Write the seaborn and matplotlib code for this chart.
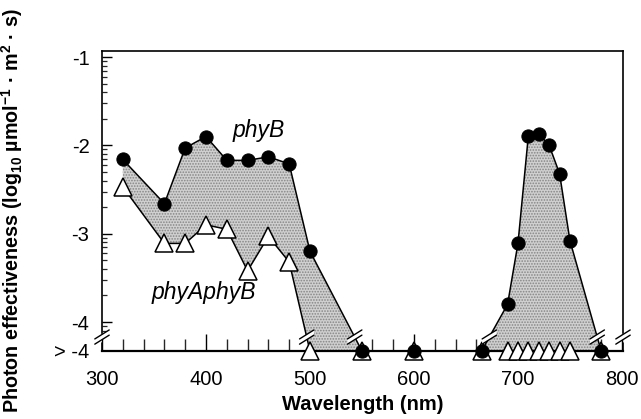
import numpy as np
import pandas as pd
import matplotlib
matplotlib.use("Agg")
import matplotlib.pyplot as plt
import seaborn as sns

# ---------------- data (log10 photon effectiveness; None = "> -4") ----------------
wavelength_nm = [320, 360, 380, 400, 420, 440, 460, 480, 500, 550, 600, 665,
                 690, 700, 710, 720, 730, 740, 750, 780]
phyB_values = [-2.16, -2.66, -2.03, -1.90, -2.17, -2.17, -2.13, -2.21, -3.20,
               None, None, None, -3.80, -3.11, -1.89, -1.87, -2.00, -2.32, -3.08, None]
phyAphyB_values = [-2.47, -3.11, -3.11, -2.90, -2.95, -3.42, -3.03, -3.32, None,
                   None, None, None, None, None, None, None, None, None, None, None]
ytick_values = [-1, -2, -3, -4]
ytick_labels = ["-1", "-2", "-3", "-4"]
floor_label = "> -4"
xtick_values = [300, 400, 500, 600, 700, 800]

FLOOR = -4.328      # plotted position of the "> -4" row
BREAK_Y = -4.17     # where the axis / line breaks are drawn

sns.set_theme(style="ticks")
plt.rcParams["font.family"] = ["Liberation Sans", "DejaVu Sans"]
plt.rcParams["mathtext.fontset"] = "custom"
plt.rcParams["mathtext.rm"] = "Liberation Sans"
plt.rcParams["mathtext.bf"] = "Liberation Sans:bold"
plt.rcParams["mathtext.it"] = "Liberation Sans:italic"
plt.rcParams["hatch.linewidth"] = 0.8
plt.rcParams["axes.unicode_minus"] = False
plt.rcParams["text.color"] = "black"
plt.rcParams["axes.labelcolor"] = "black"

df = pd.DataFrame({
    "nm": wavelength_nm,
    "phyB": [FLOOR if v is None else v for v in phyB_values],
    "phyAphyB": [FLOOR if v is None else v for v in phyAphyB_values],
})

fig = plt.figure(figsize=(6.41, 4.19), dpi=100)
ax = fig.add_axes([102 / 641, 1 - 351 / 419, 521 / 641, 300 / 419])
ax.set_xlim(300, 801)
ax.set_ylim(FLOOR, -0.932)

# shaded areas between the two curves
left = df[df.nm <= 550]
right = df[df.nm >= 665]
for part in (left, right):
    ax.fill_between(part.nm, part.phyB, part.phyAphyB, facecolor="#d0d0d0",
                    edgecolor="#858585", hatch="......", linewidth=0, zorder=1)

sns.lineplot(data=df, x="nm", y="phyAphyB", ax=ax, sort=False, estimator=None,
             color="black", linewidth=1.1, marker="^", markersize=12.5,
             markerfacecolor="white", markeredgecolor="black", markeredgewidth=1.1,
             clip_on=False, zorder=4)
sns.lineplot(data=df, x="nm", y="phyB", ax=ax, sort=False, estimator=None,
             color="black", linewidth=1.1, marker="o", markersize=9.5,
             markerfacecolor="black", markeredgecolor="black",
             clip_on=False, zorder=5)

# ticks
ax.set_xticks(xtick_values)
ax.set_xticklabels([str(v) for v in xtick_values])
ax.set_xticks(np.arange(320, 800, 20), minor=True)
ax.set_yticks(ytick_values + [FLOOR])
ax.set_yticklabels(ytick_labels + [floor_label])
ax.yaxis.get_major_ticks()[-1].tick1line.set_visible(False)
minor_y = [n + np.log10(k) for n in (-2, -3, -4, -5) for k in range(2, 10)]
minor_y = [v for v in minor_y if -4.12 <= v <= -0.95]
ax.set_yticks(minor_y, minor=True)

ax.tick_params(axis="x", which="major", direction="in", length=12.5, width=1.0,
               pad=14, labelsize=14.5, colors="black")
ax.tick_params(axis="x", which="minor", direction="in", length=8.5, width=1.0)
ax.tick_params(axis="y", which="major", direction="in", length=7, width=1.0,
               pad=9, labelsize=14.5, colors="black")
ax.tick_params(axis="y", which="minor", direction="in", length=3.6, width=0.9)
ax.tick_params(top=False, right=False)

for s in ax.spines.values():
    s.set_color("black")
    s.set_linewidth(1.2)
ax.spines["left"].set_bounds(-4.125, -0.932)
ax.spines["right"].set_bounds(-4.125, -0.932)
ax.spines["bottom"].set_linewidth(1.6)

ax.set_xlabel("Wavelength (nm)", fontsize=14.5, fontweight="bold", color="black")
ax.xaxis.set_label_coords(0.5, -0.148)
ax.set_ylabel(r"Photon effectiveness (log$_{\mathbf{10}}$ µmol$^{\mathbf{-1}}$ · m$^{\mathbf{2}}$ · s)",
              fontsize=14.2, fontweight="bold", color="black")
ax.yaxis.set_label_coords(-0.148, 0.467)

ax.text(451, -1.83, "phyB", fontsize=16.5, style="italic", ha="center", va="center",
        color="black")
ax.text(398, -3.67, "phyAphyB", fontsize=16.5, style="italic", ha="center", va="center",
        color="black")

# ---------------- break marks ----------------
fig.canvas.draw()
inv = ax.transData.inverted()


def draw_break(xd, yd):
    px, py = ax.transData.transform((xd, yd))
    ang = np.deg2rad(32)
    hl = 8.5
    dx, dy = hl * np.cos(ang), hl * np.sin(ang)
    gap = 2.6
    quad = [(px - dx, py - dy - gap), (px + dx, py + dy - gap),
            (px + dx, py + dy + gap), (px - dx, py - dy + gap)]
    qd = inv.transform(quad)
    ax.fill(qd[:, 0], qd[:, 1], color="white", zorder=6, clip_on=False, lw=0)
    for off in (-gap, gap):
        seg = inv.transform([(px - dx, py - dy + off), (px + dx, py + dy + off)])
        ax.plot(seg[:, 0], seg[:, 1], color="black", lw=1.0, zorder=7, clip_on=False)


# on the spines
for xs in (300, 801):
    draw_break(xs, BREAK_Y)
    ax.plot([xs, xs], [FLOOR, -4.24], color="black", lw=1.2, clip_on=False, zorder=3)

# on the data lines where they drop to the "> -4" row
for col in ("phyB", "phyAphyB"):
    xs = df.nm.values
    ys = df[col].values
    for i in range(len(xs) - 1):
        a, b = ys[i], ys[i + 1]
        if (a > BREAK_Y) != (b > BREAK_Y):
            t = (BREAK_Y - a) / (b - a)
            draw_break(xs[i] + t * (xs[i + 1] - xs[i]), BREAK_Y)

fig.savefig("out.png", dpi=100)
